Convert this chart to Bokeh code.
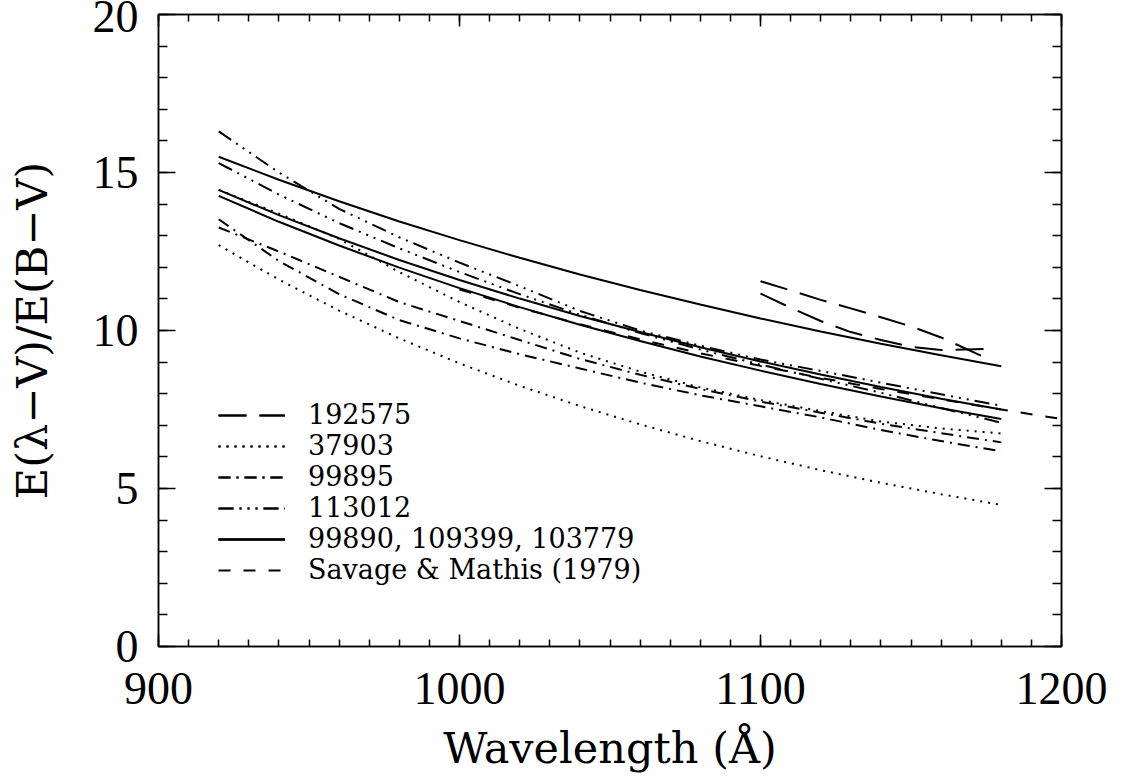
from bokeh.plotting import figure
from bokeh.models import Range1d, FixedTicker, LinearAxis, Legend, LegendItem
from bokeh.embed import file_html
from bokeh.resources import INLINE

# ---- data ----
wl = [920, 940, 960, 980, 1000, 1020, 1040, 1060, 1080, 1100, 1120, 1140, 1160, 1180]

# 99890, 109399, 103779 (solid)
solid_1 = [15.5, 14.77, 14.09, 13.45, 12.86, 12.30, 11.77, 11.28, 10.82, 10.38, 9.97, 9.58, 9.22, 8.87]
solid_2 = [14.45, 13.65, 12.92, 12.23, 11.60, 11.01, 10.46, 9.95, 9.47, 9.02, 8.61, 8.21, 7.84, 7.50]
solid_3 = [14.26, 13.44, 12.69, 11.99, 11.34, 10.74, 10.18, 9.67, 9.18, 8.73, 8.31, 7.91, 7.54, 7.20]

# 113012 (dash dot dot dot)
hd113_1 = [16.3, 15.0, 13.85, 12.95, 12.15, 11.4, 10.62, 10.0, 9.52, 9.08, 8.72, 8.35, 7.98, 7.62]
hd113_2 = [15.3, 14.3, 13.4, 12.6, 11.85, 11.15, 10.5, 9.92, 9.4, 8.92, 8.47, 8.03, 7.55, 7.08]

# 37903 (dotted)
hd37903_1 = [14.45, 13.7, 12.9, 11.85, 10.9, 10.05, 9.3, 8.7, 8.2, 7.8, 7.45, 7.12, 6.9, 6.74]
hd37903_2 = [12.7, 11.61, 10.63, 9.75, 8.96, 8.25, 7.61, 7.03, 6.50, 6.02, 5.58, 5.18, 4.82, 4.48]

# 99895 (dash dot)
hd99895_1 = [13.52, 12.2, 11.15, 10.33, 9.75, 9.25, 8.8, 8.35, 7.95, 7.6, 7.25, 6.85, 6.5, 6.18]
hd99895_2 = [13.26, 12.5, 11.7, 10.9, 10.3, 9.7, 9.1, 8.6, 8.15, 7.75, 7.4, 7.05, 6.75, 6.46]

# 192575 (long dashes)
wl_192575 = [1100, 1110, 1120, 1130, 1140, 1150, 1160, 1175]
hd192575_1 = [11.56, 11.27, 10.97, 10.70, 10.42, 10.13, 9.78, 9.13]
hd192575_2 = [11.17, 10.72, 10.30, 9.95, 9.70, 9.48, 9.38, 9.42]

# Savage & Mathis (1979) (dashed)
wl_sm = [1000, 1020, 1040, 1060, 1080, 1100, 1120, 1140, 1160, 1180, 1200]
savage_mathis = [11.3, 10.72, 10.2, 9.72, 9.28, 8.88, 8.5, 8.15, 7.82, 7.5, 7.2]

legend_labels = ["192575", "37903", "99895", "113012",
                 "99890, 109399, 103779", "Savage & Mathis (1979)"]

x_ticks = [900, 1000, 1100, 1200]
y_ticks = [0, 5, 10, 15, 20]
x_minor = list(range(900, 1201, 10))
y_minor = list(range(0, 21, 1))

# ---- figure ----
p = figure(width=1122, height=775, output_backend="svg", toolbar_location=None,
           x_range=Range1d(900, 1200), y_range=Range1d(0, 20),
           min_border_left=158, min_border_right=61, min_border_top=14, min_border_bottom=123,
           x_axis_label="Wavelength (Å)", y_axis_label="E(λ−V)/E(B−V)")
p.grid.visible = False
p.outline_line_color = "black"
p.outline_line_width = 1.5
p.background_fill_color = "white"
p.border_fill_color = "white"

TICKFONT = "Liberation Serif"
LABELFONT = "DejaVu Serif"

def style_axis(ax, major, minor, tin, min_in, labels=True):
    ax.ticker = FixedTicker(ticks=major, minor_ticks=minor)
    ax.major_tick_in = tin
    ax.major_tick_out = 0
    ax.minor_tick_in = min_in
    ax.minor_tick_out = 0
    ax.axis_line_color = "black"
    ax.axis_line_width = 1.5
    ax.major_tick_line_width = 1.5
    ax.minor_tick_line_width = 1.5
    ax.major_tick_line_color = "black"
    ax.minor_tick_line_color = "black"
    if labels:
        ax.major_label_text_font = TICKFONT
        ax.major_label_text_font_size = "46px"
        ax.major_label_text_color = "black"
        ax.axis_label_text_font = LABELFONT
        ax.axis_label_text_font_size = "43px"
        ax.axis_label_text_font_style = "normal"
        ax.axis_label_text_color = "black"
    else:
        ax.major_label_overrides = {t: "" for t in major}
        ax.major_label_text_font_size = "1px"

style_axis(p.xaxis[0], x_ticks, x_minor, 12, 7)
style_axis(p.yaxis[0], y_ticks, y_minor, 17, 9)
p.xaxis[0].major_label_standoff = 26
p.xaxis[0].axis_label_standoff = 16
p.yaxis[0].major_label_standoff = 20
p.yaxis[0].axis_label_standoff = 33

top = LinearAxis()
style_axis(top, x_ticks, x_minor, 12, 7, labels=False)
p.add_layout(top, "above")
right = LinearAxis()
style_axis(right, y_ticks, y_minor, 17, 9, labels=False)
p.add_layout(right, "right")

LW = 2
DASH_192575 = "28 13"
DASH_37903 = "2 6"
DASH_99895 = "12 6 2 6"
DASH_113012 = "15 6 2 6 2 6 2 6"
DASH_SM = "12 13"

r192a = p.line(wl_192575, hd192575_1, line_color="black", line_width=LW, line_dash=DASH_192575)
r192b = p.line(wl_192575, hd192575_2, line_color="black", line_width=LW, line_dash=DASH_192575)
r379a = p.line(wl, hd37903_1, line_color="black", line_width=2, line_dash=DASH_37903)
r379b = p.line(wl, hd37903_2, line_color="black", line_width=2, line_dash=DASH_37903)
r998a = p.line(wl, hd99895_1, line_color="black", line_width=LW, line_dash=DASH_99895)
r998b = p.line(wl, hd99895_2, line_color="black", line_width=LW, line_dash=DASH_99895)
r113a = p.line(wl, hd113_1, line_color="black", line_width=LW, line_dash=DASH_113012)
r113b = p.line(wl, hd113_2, line_color="black", line_width=LW, line_dash=DASH_113012)
rs1 = p.line(wl, solid_1, line_color="black", line_width=LW)
rs2 = p.line(wl, solid_2, line_color="black", line_width=LW)
rs3 = p.line(wl, solid_3, line_color="black", line_width=LW)
rsm = p.line(wl_sm, savage_mathis, line_color="black", line_width=LW, line_dash=DASH_SM)

items = [
    LegendItem(label=legend_labels[0], renderers=[r192a, r192b]),
    LegendItem(label=legend_labels[1], renderers=[r379a, r379b]),
    LegendItem(label=legend_labels[2], renderers=[r998a, r998b]),
    LegendItem(label=legend_labels[3], renderers=[r113a, r113b]),
    LegendItem(label=legend_labels[4], renderers=[rs1, rs2, rs3]),
    LegendItem(label=legend_labels[5], renderers=[rsm]),
]
legend = Legend(items=items, location=(60, 61))
legend.padding = 0
legend.margin = 0
legend.spacing = 0
legend.border_line_color = None
legend.background_fill_alpha = 0
legend.glyph_width = 67
legend.glyph_height = 30
legend.label_height = 30
legend.label_standoff = 23
legend.label_text_font = LABELFONT
legend.label_text_font_size = "27px"
legend.label_text_color = "black"
p.add_layout(legend)

open("out.html", "w").write(file_html(p, INLINE))
